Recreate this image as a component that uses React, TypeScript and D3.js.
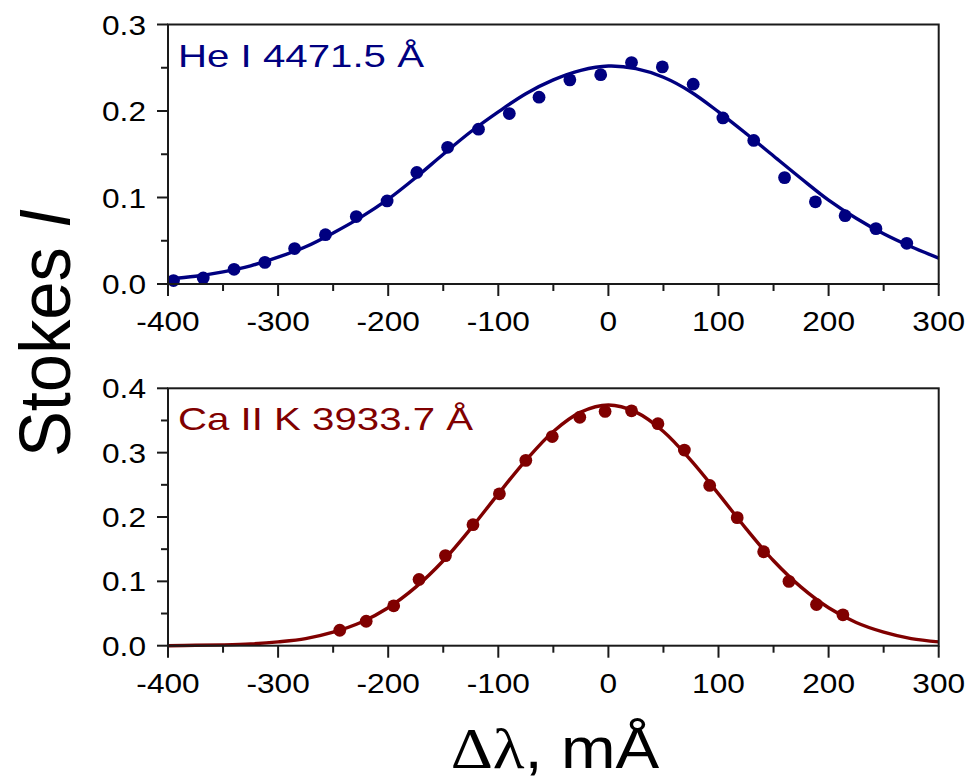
import React from "react";
import * as d3 from "d3";

// ---- Data ----
const heX = [-395, -368, -340, -312, -285, -257, -229, -201, -174, -146, -118, -90, -63, -35, -7, 21, 49, 77, 104, 132, 160, 188, 215, 243, 271];
const heY = [0.004, 0.007, 0.017, 0.025, 0.041, 0.057, 0.078, 0.096, 0.129, 0.158, 0.179, 0.197, 0.216, 0.236, 0.242, 0.256, 0.251, 0.231, 0.192, 0.166, 0.123, 0.095, 0.079, 0.064, 0.047];

const fitX = [-400, -375, -350, -325, -300, -275, -250, -225, -200, -175, -150, -125, -100, -75, -50, -25, 0, 25, 50, 75, 100, 125, 150, 175, 200, 225, 250, 275, 300];
const heFitY = [0.006, 0.009, 0.014, 0.021, 0.031, 0.043, 0.059, 0.077, 0.098, 0.123, 0.150, 0.176, 0.199, 0.220, 0.236, 0.247, 0.252, 0.249, 0.239, 0.222, 0.199, 0.174, 0.148, 0.122, 0.097, 0.076, 0.058, 0.043, 0.030];

const caX = [-244, -220, -195, -172, -148, -123, -99, -75, -51, -26, -3, 21, 45, 69, 92, 117, 141, 164, 189, 213];
const caY = [0.024, 0.038, 0.062, 0.103, 0.140, 0.188, 0.236, 0.288, 0.325, 0.355, 0.364, 0.365, 0.345, 0.304, 0.249, 0.199, 0.146, 0.100, 0.064, 0.048];
const caFitY = [0.000, 0.0006, 0.0013, 0.0028, 0.006, 0.011, 0.021, 0.036, 0.059, 0.091, 0.132, 0.182, 0.236, 0.288, 0.333, 0.363, 0.374, 0.363, 0.333, 0.288, 0.236, 0.182, 0.132, 0.091, 0.059, 0.036, 0.021, 0.011, 0.006];

const xTicks = [-400, -300, -200, -100, 0, 100, 200, 300];
const xMinor = [-350, -250, -150, -50, 50, 150, 250];
const topYTicks = [0.0, 0.1, 0.2, 0.3];
const topYMinor = [0.05, 0.15, 0.25];
const botYTicks = [0.0, 0.1, 0.2, 0.3, 0.4];
const botYMinor = [0.05, 0.15, 0.25, 0.35];

const BLUE = "#000080";
const RED = "#800000";
const AXIS = "#1a1a1a";
const FONT = "'Liberation Sans', Arial, sans-serif";
const SX = 1.13;

const xScale = d3.scaleLinear().domain([-400, 300]).range([168, 938.7]);

function Panel({ yDomain, yRange, yTicks, yMinor, px, py, fy, color, label, labelY, labelLen }: any) {
  const y = d3.scaleLinear().domain(yDomain).range(yRange);
  const line = d3
    .line<number>()
    .x((_, i) => xScale(fitX[i]))
    .y((d) => y(d))
    .curve(d3.curveCatmullRom.alpha(0.5));
  const [x0, x1] = xScale.range();
  const yb = y(yDomain[0]);
  const yt = y(yDomain[1]);
  return (
    <g>
      <path d={line(fy) || ""} fill="none" stroke={color} strokeWidth={3.4} />
      {px.map((xv: number, i: number) => (
        <circle key={i} cx={xScale(xv)} cy={y(py[i])} r={6.4} fill={color} />
      ))}
      {/* frame */}
      <rect x={x0} y={yt} width={x1 - x0} height={yb - yt} fill="none" stroke={AXIS} strokeWidth={2} />
      {/* x ticks */}
      {xTicks.map((t) => (
        <g key={"xt" + t}>
          <line x1={xScale(t)} x2={xScale(t)} y1={yb} y2={yb + 12} stroke={AXIS} strokeWidth={2} />
          <g transform={`translate(${xScale(t)},${yb + 47}) scale(${SX},1)`}>
            <text textAnchor="middle" fontFamily={FONT} fontSize={28} fill="#000">
              {t}
            </text>
          </g>
        </g>
      ))}
      {xMinor.map((t) => (
        <line key={"xm" + t} x1={xScale(t)} x2={xScale(t)} y1={yb} y2={yb + 7} stroke={AXIS} strokeWidth={2} />
      ))}
      {yTicks.map((t: number) => (
        <g key={"yt" + t}>
          <line x1={x0 - 11} x2={x0} y1={y(t)} y2={y(t)} stroke={AXIS} strokeWidth={2} />
          <g transform={`translate(${x0 - 22},${y(t) + 10}) scale(${SX},1)`}>
            <text textAnchor="end" fontFamily={FONT} fontSize={28} fill="#000">
              {t.toFixed(1)}
            </text>
          </g>
        </g>
      ))}
      {yMinor.map((t: number) => (
        <line key={"ym" + t} x1={x0 - 7} x2={x0} y1={y(t)} y2={y(t)} stroke={AXIS} strokeWidth={2} />
      ))}
      <text
        x={178}
        y={labelY}
        fontFamily={FONT}
        fontSize={32}
        fill={color}
        textLength={labelLen}
        lengthAdjust="spacingAndGlyphs"
      >
        {label}
      </text>
    </g>
  );
}

export default function App() {
  return (
    <svg
      width={971}
      height={781}
      style={{ position: "absolute", left: 0, top: 0, background: "#fff" }}
    >
      <rect x={0} y={0} width={971} height={781} fill="#fff" />
      <Panel
        yDomain={[0, 0.3]}
        yRange={[284, 24.5]}
        yTicks={topYTicks}
        yMinor={topYMinor}
        px={heX}
        py={heY}
        fy={heFitY}
        color={BLUE}
        label="He I 4471.5 Å"
        labelY={66.7}
        labelLen={246}
      />
      <Panel
        yDomain={[0, 0.4]}
        yRange={[645.7, 388.3]}
        yTicks={botYTicks}
        yMinor={botYMinor}
        px={caX}
        py={caY}
        fy={caFitY}
        color={RED}
        label="Ca II K 3933.7 Å"
        labelY={430}
        labelLen={295}
      />
      <g transform={`translate(70,333) scale(${SX},1) rotate(-90)`}>
        <text textAnchor="middle" fontFamily={FONT} fontSize={64} fill="#000" textLength={248} lengthAdjust="spacingAndGlyphs">
          Stokes <tspan fontStyle="italic">I</tspan>
        </text>
      </g>
      <g transform={`translate(555,768) scale(${SX},1)`}>
        <text textAnchor="middle" fontFamily={FONT} fontSize={58} fill="#000">
          <tspan fontFamily="'Liberation Serif', 'DejaVu Serif', serif">Δλ</tspan>, mÅ
        </text>
      </g>
    </svg>
  );
}
